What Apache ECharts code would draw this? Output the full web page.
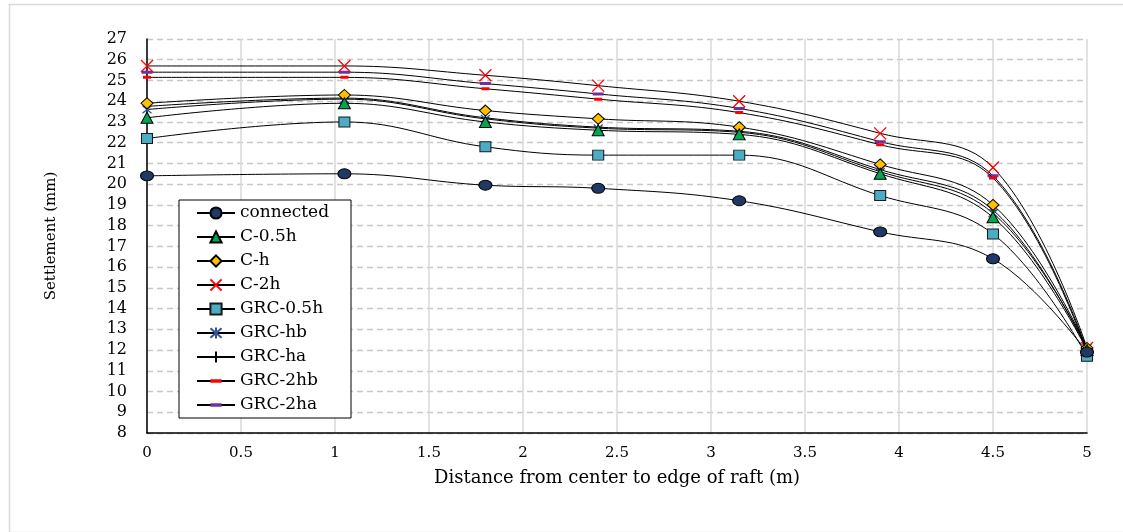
<!DOCTYPE html>
<html>
<head>
<meta charset="utf-8">
<script src="https://cdn.jsdelivr.net/npm/echarts@6/dist/echarts.min.js"></script>
<style>
html,body{margin:0;padding:0;background:#fff;}
#chart{width:1123px;height:532px;}
</style>
</head>
<body>
<div id="chart"></div>
<script>
// Distance from center to edge of raft (m)
const distances = [0, 1.05, 1.8, 2.4, 3.15, 3.9, 4.5, 5];
// Settlement (mm)
const connected = [20.4, 20.5, 19.95, 19.8, 19.2, 17.7, 16.4, 11.9];
const c05h      = [23.2, 23.9, 23.0, 22.6, 22.4, 20.5, 18.4, 12.0];
const ch        = [23.9, 24.3, 23.55, 23.15, 22.75, 20.95, 19.0, 12.1];
const c2h       = [25.7, 25.7, 25.25, 24.75, 24.0, 22.45, 20.8, 12.1];
const grc05h    = [22.2, 23.0, 21.8, 21.4, 21.4, 19.45, 17.6, 11.7];
const grchb     = [23.6, 24.1, 23.15, 22.7, 22.5, 20.6, 18.6, 12.1];
const grcha     = [23.75, 24.15, 23.2, 22.75, 22.55, 20.7, 18.75, 12.0];
const grc2hb    = [25.15, 25.15, 24.6, 24.1, 23.45, 21.9, 20.3, 11.9];
const grc2ha    = [25.4, 25.4, 24.85, 24.35, 23.65, 22.05, 20.4, 12.0];
const seriesNames = ['connected','C-0.5h','C-h','C-2h','GRC-0.5h','GRC-hb','GRC-ha','GRC-2hb','GRC-2ha'];

const pair = arr => arr.map((v, i) => [distances[i], v]);

// dash glyph inside a square box (zero-area sub-paths keep the box square)
const dashPath = 'path://M0,0L10,0L0,0Z M0,3.5L10,3.5L10,6.5L0,6.5Z M0,10L10,10L0,10Z';

const styles = [
  {symbol:'circle', size:[13,10], item:{color:'#1F3864', borderColor:'#000', borderWidth:1}},
  {symbol:'triangle', size:[12,11], item:{color:'#00A650', borderColor:'#000', borderWidth:1}},
  {symbol:'diamond', size:[12,11], item:{color:'#FFC000', borderColor:'#000', borderWidth:1}},
  {symbol:'path://M0,0L10,10M10,0L0,10', size:12, item:{color:'none', borderColor:'#FF0000', borderWidth:1.3}},
  {symbol:'rect', size:[11,10], item:{color:'#4BACC6', borderColor:'#1a1a1a', borderWidth:1}},
  {symbol:'path://M0,0L10,10M10,0L0,10M5,-1L5,11', size:9, item:{color:'none', borderColor:'#2F5597', borderWidth:1.3}},
  {symbol:'path://M5,0L5,10M0,5L10,5', size:[8,10], item:{color:'none', borderColor:'#000', borderWidth:1.2}},
  {symbol:dashPath, size:[8,10], item:{color:'#FF0000', borderWidth:0}},
  {symbol:dashPath, size:[11,10], item:{color:'#7030A0', borderWidth:0}}
];
const dataSets = [connected, c05h, ch, c2h, grc05h, grchb, grcha, grc2hb, grc2ha];

const series = seriesNames.map((name, i) => ({
  name: name,
  type: 'line',
  data: pair(dataSets[i]),
  smooth: 0.4,
  symbol: styles[i].symbol,
  symbolSize: styles[i].size,
  showAllSymbol: true,
  itemStyle: styles[i].item,
  lineStyle: {color:'#000', width:1},
  z: 10 - i,
  animation: false
}));

const chart = echarts.init(document.getElementById('chart'), null, {renderer:'canvas'});
chart.setOption({
  backgroundColor: '#fff',
  animation: false,
  graphic: [{
    type:'rect', left:7, top:2, shape:{width:1125, height:528},
    style:{fill:'none', stroke:'#d9d9d9', lineWidth:1.5}, silent:true
  }],
  grid: {left:147, right:36, top:39, bottom:99},
  xAxis: {
    type:'value', min:0, max:5, interval:0.5,
    name:'Distance from center to edge of raft (m)',
    nameLocation:'middle', nameGap:36,
    nameTextStyle:{fontFamily:'DejaVu Serif', fontSize:18, color:'#000'},
    axisLine:{show:true, onZero:false, lineStyle:{color:'#000', width:1.5}},
    axisTick:{show:false},
    axisLabel:{fontFamily:'DejaVu Serif', fontSize:15, color:'#000', margin:13},
    splitLine:{show:true, lineStyle:{color:'#d9d9d9', width:1.5, type:'solid'}}
  },
  yAxis: {
    type:'value', min:8, max:27, interval:1,
    name:'Settlement (mm)',
    nameLocation:'middle', nameGap:88,
    nameTextStyle:{fontFamily:'DejaVu Serif', fontSize:15, color:'#000'},
    axisLine:{show:true, onZero:false, lineStyle:{color:'#000', width:1.5}},
    axisTick:{show:false},
    axisLabel:{fontFamily:'DejaVu Serif', fontSize:16, color:'#000', margin:20},
    splitLine:{show:true, lineStyle:{color:'#c8c8c8', width:1.3, type:[6,4]}}
  },
  legend: {
    data: seriesNames,
    orient:'vertical',
    left:179, top:200,
    padding:[3, 22, 3, 17],
    itemWidth:38, itemHeight:14, itemGap:4,
    backgroundColor:'#fff',
    borderColor:'#000', borderWidth:1,
    textStyle:{fontFamily:'DejaVu Serif', fontSize:17, color:'#000', lineHeight:20}
  },
  series: series
});
</script>
</body>
</html>
